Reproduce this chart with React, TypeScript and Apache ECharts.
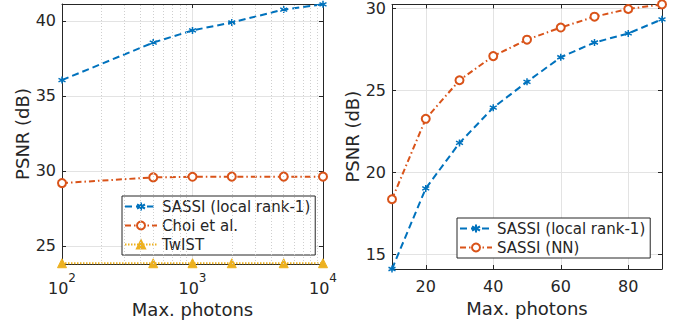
import React, { useEffect, useRef } from 'react';
import * as echarts from 'echarts';

// ---- data ----
const leftPhotons = [100, 500, 1000, 2000, 5000, 10000];
const leftSassi = [36.05, 38.55, 39.36, 39.89, 40.75, 41.1];
const leftChoi = [29.19, 29.57, 29.61, 29.62, 29.62, 29.62];
const leftTwist = [23.85, 23.85, 23.85, 23.85, 23.85, 23.85];
const leftMinorGrid = [200, 300, 400, 500, 600, 700, 800, 900, 2000, 3000, 4000, 5000, 6000, 7000, 8000, 9000];
const leftXRange = [100, 10000];
const leftYRange = [23.8, 41.12];

const rightPhotons = [10, 20, 30, 40, 50, 60, 70, 80, 90];
const rightSassi = [14.1, 19.01, 21.78, 23.93, 25.5, 27.0, 27.9, 28.45, 29.31];
const rightNN = [18.35, 23.25, 25.6, 27.07, 28.07, 28.81, 29.47, 29.94, 30.22];
const rightXRange = [10, 90];
const rightYRange = [14.1, 30.22];

const leftLegend = ['SASSI (local rank-1)', 'Choi et al.', 'TwIST'];
const rightLegend = ['SASSI (local rank-1)', 'SASSI (NN)'];
const xTitle = 'Max. photons';
const yTitle = 'PSNR (dB)';

// ---- styles ----
const BLUE = '#0072BD';
const ORANGE = '#D95319';
const YELLOW = '#EDB120';
const INK = '#262626';
const GRID = '#e3e3e3';
const MINOR = '#cfcfcf';
const FONT = 'DejaVu Sans';
const STAR = 'path://M5,0L5,10M0.67,2.5L9.33,7.5M0.67,7.5L9.33,2.5';

const pairs = (xs: number[], ys: number[]) => xs.map((x, i) => [x, ys[i]]);

function baseAxis(extra: any) {
  return {
    axisLine: { show: true, onZero: false, lineStyle: { color: INK, width: 1 } },
    axisTick: { show: true, inside: true, length: 4, lineStyle: { color: INK } },
    axisLabel: { color: INK, fontFamily: FONT, fontSize: 16, margin: 6, showMinLabel: false, showMaxLabel: false },
    splitLine: { show: true, lineStyle: { color: GRID, width: 1 } },
    nameTextStyle: { color: INK, fontFamily: FONT, fontSize: 18 },
    ...extra,
  };
}

function mirrorAxis(extra: any) {
  return {
    axisLine: { show: true, onZero: false, lineStyle: { color: INK, width: 1 } },
    axisTick: { show: true, inside: true, length: 4, lineStyle: { color: INK } },
    axisLabel: { show: false },
    splitLine: { show: false },
    ...extra,
  };
}

function lineSeries(name: string, data: number[][], xi: number, yi: number, color: string, dash: any, symbol: string, size: number, bw: number) {
  return {
    type: 'line',
    name,
    data,
    xAxisIndex: xi,
    yAxisIndex: yi,
    clip: false,
    z: 3,
    symbol,
    symbolSize: size,
    showAllSymbol: true,
    lineStyle: { color, width: 2, type: dash },
    itemStyle: { color, borderColor: color, borderWidth: bw },
  };
}

export default function App() {
  const ref = useRef<HTMLDivElement>(null);
  useEffect(() => {
    document.body.style.margin = '0';
    const chart = echarts.init(ref.current!, undefined, { renderer: 'svg' });
    const legendCommon = {
      orient: 'vertical',
      backgroundColor: '#ffffff',
      borderColor: INK,
      borderWidth: 1,
      borderRadius: 0,
      itemWidth: 32,
      itemHeight: 10,
      textStyle: { color: INK, fontFamily: FONT, fontSize: 15 },
      selectedMode: false,
    };
    chart.setOption({
      animation: false,
      textStyle: { fontFamily: FONT },
      grid: [
        { left: 62, top: 4, width: 261, height: 260 },
        { left: 392, top: 3, width: 270, height: 266 },
      ],
      legend: [
        { ...legendCommon, data: leftLegend, left: 122, top: 196, padding: [3, 5, 3, 2], itemGap: 4 },
        { ...legendCommon, data: rightLegend, left: 457, top: 218, padding: [3, 5, 3, 2], itemGap: 4 },
      ],
      xAxis: [
        baseAxis({
          type: 'log', logBase: 10, gridIndex: 0, min: leftXRange[0], max: leftXRange[1], position: 'bottom',
          name: xTitle, nameLocation: 'middle', nameGap: 35,
          axisLabel: {
            color: INK, fontFamily: FONT, margin: 8,
            formatter: (v: number) => `{b|10}{s|${Math.round(Math.log10(v))}}`,
            rich: {
              b: { fontSize: 16, lineHeight: 24, verticalAlign: 'bottom', color: INK, fontFamily: FONT },
              s: { fontSize: 12, lineHeight: 10, verticalAlign: 'top', color: INK, fontFamily: FONT },
            },
          },
        }),
        mirrorAxis({ type: 'log', logBase: 10, gridIndex: 0, min: leftXRange[0], max: leftXRange[1], position: 'top' }),
        baseAxis({
          type: 'value', gridIndex: 1, min: rightXRange[0], max: rightXRange[1], splitNumber: 4, position: 'bottom',
          name: xTitle, nameLocation: 'middle', nameGap: 30,
          axisLabel: { color: INK, fontFamily: FONT, fontSize: 16, margin: 9, showMinLabel: false, showMaxLabel: false },
        }),
        mirrorAxis({ type: 'value', gridIndex: 1, min: rightXRange[0], max: rightXRange[1], splitNumber: 4, position: 'top' }),
      ],
      yAxis: [
        baseAxis({
          type: 'value', gridIndex: 0, min: leftYRange[0], max: leftYRange[1], splitNumber: 3, position: 'left',
          name: yTitle, nameLocation: 'middle', nameGap: 29,
        }),
        mirrorAxis({ type: 'value', gridIndex: 0, min: leftYRange[0], max: leftYRange[1], splitNumber: 3, position: 'right' }),
        baseAxis({
          type: 'value', gridIndex: 1, min: rightYRange[0], max: rightYRange[1], splitNumber: 3, position: 'left',
          name: yTitle, nameLocation: 'middle', nameGap: 29,
        }),
        mirrorAxis({ type: 'value', gridIndex: 1, min: rightYRange[0], max: rightYRange[1], splitNumber: 3, position: 'right' }),
      ],
      series: [
        {
          type: 'line', name: '_minor', data: [], xAxisIndex: 0, yAxisIndex: 0, z: 1, silent: true,
          markLine: {
            silent: true, symbol: 'none', label: { show: false }, animation: false,
            lineStyle: { color: MINOR, width: 1, type: [1, 2] },
            emphasis: { disabled: true },
            data: leftMinorGrid.map((v) => ({ xAxis: v })),
          },
        },
        lineSeries(leftLegend[0], pairs(leftPhotons, leftSassi), 0, 0, BLUE, [7, 4], STAR, 7, 1.5),
        lineSeries(leftLegend[1], pairs(leftPhotons, leftChoi), 0, 0, ORANGE, [6, 3, 1.5, 3], 'emptyCircle', 8, 1.5),
        lineSeries(leftLegend[2], pairs(leftPhotons, leftTwist), 0, 0, YELLOW, [1.5, 1.5], 'triangle', 9, 1),
        lineSeries(rightLegend[0], pairs(rightPhotons, rightSassi), 2, 2, BLUE, [7, 4], STAR, 7, 1.5),
        lineSeries(rightLegend[1], pairs(rightPhotons, rightNN), 2, 2, ORANGE, [6, 3, 1.5, 3], 'emptyCircle', 8, 1.5),
      ],
    });
    return () => chart.dispose();
  }, []);
  return <div ref={ref} style={{ width: 678, height: 324 }} />;
}
